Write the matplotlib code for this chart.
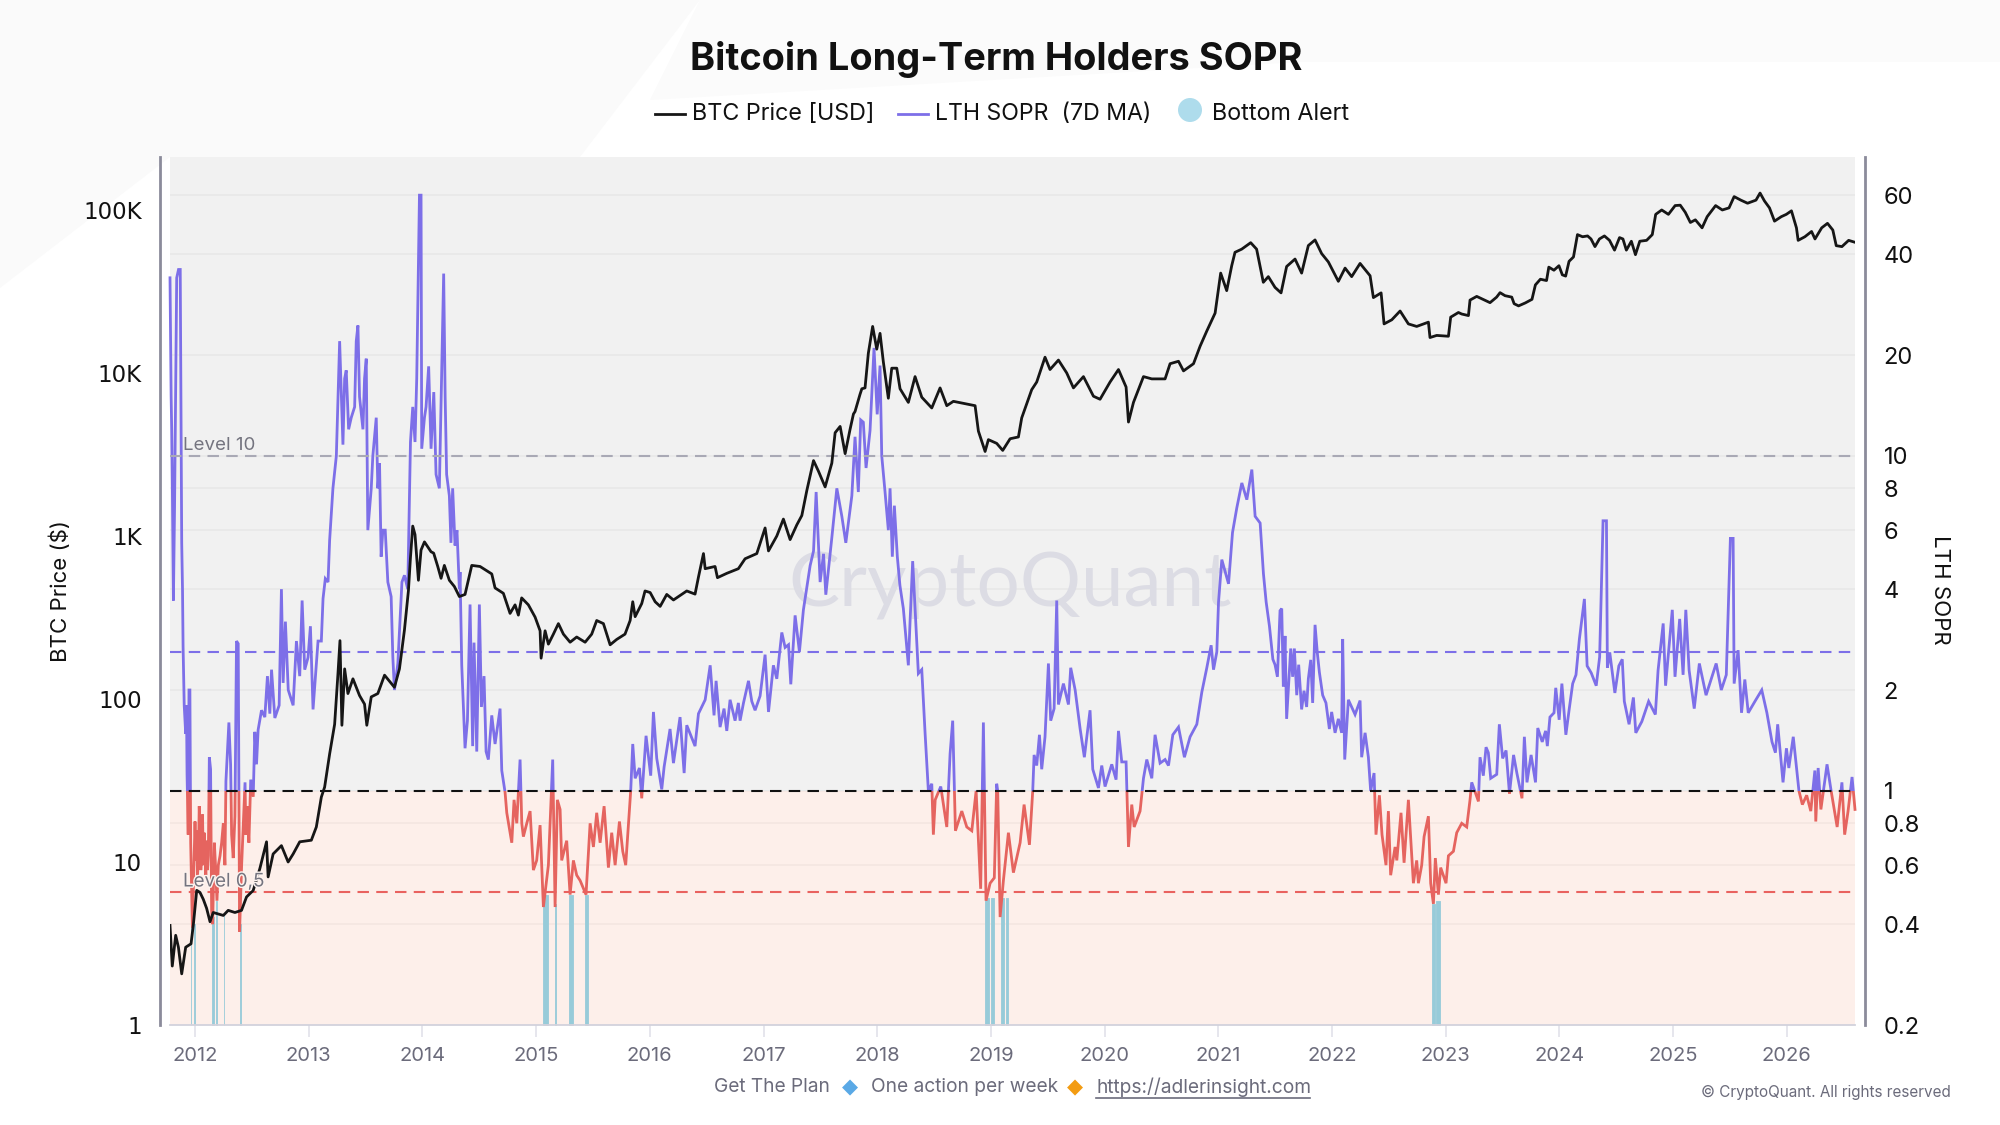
import matplotlib
matplotlib.use("Agg")
import matplotlib.pyplot as plt
import matplotlib.patheffects as pe
from matplotlib.lines import Line2D
from matplotlib.patches import Circle, Polygon, Rectangle
from matplotlib.ticker import FixedLocator, FixedFormatter, NullLocator

W, H = 2000, 1125
FONT = ["Inter", "DejaVu Sans"]

# ---------- data ----------
sopr_years_2011_2014 = [2011.78,2011.79,2011.795,2011.80,2011.81,2011.82,2011.839,2011.855,2011.87,2011.883,2011.89,2011.895,2011.90,2011.905,2011.918,2011.925,2011.93,2011.94,2011.947,2011.955,2011.962,2011.977,
 2012.0,2012.008,2012.015,2012.022,2012.03,2012.037,2012.044,2012.051,2012.058,2012.066,2012.073,2012.08,2012.088,2012.095,2012.102,2012.11,2012.117,2012.126,2012.137,2012.146,2012.155,2012.17,2012.18,2012.193,2012.205,2012.22,2012.234,2012.249,2012.263,2012.272,2012.284,2012.298,2012.313,2012.322,2012.336,2012.351,2012.365,2012.38,2012.392,2012.41,2012.44,2012.447,2012.459,2012.474,2012.49,2012.512,2012.526,2012.541,2012.555,2012.585,2012.614,2012.637,2012.658,2012.673,2012.702,2012.74,2012.76,2012.775,2012.795,2012.82,2012.863,2012.892,2012.921,2012.942,2012.965,2012.994,
 2013.015,2013.038,2013.082,2013.111,2013.126,2013.146,2013.17,2013.184,2013.213,2013.243,2013.272,2013.301,2013.316,2013.33,2013.351,2013.374,2013.404,2013.418,2013.433,2013.447,2013.477,2013.491,2013.506,2013.52,2013.55,2013.564,2013.594,2013.608,2013.623,2013.637,2013.652,2013.673,2013.696,2013.725,2013.74,2013.754,2013.784,2013.82,2013.842,2013.871,2013.895,2013.915,2013.935,2013.95,2013.974,2013.988,2013.994,
 2014.018,2014.032,2014.055,2014.076,2014.1,2014.12,2014.149,2014.187,2014.2,2014.213,2014.237,2014.251,2014.266,2014.287,2014.304,2014.325]
sopr_values_2011_2014 = [34,15,12,8.5,3.7,7,34,36,36,5.5,4,2.7,2.2,1.8,1.48,1.8,1.12,.74,2,2,.7,.39,
 .81,.62,.76,.56,.62,.9,.78,.58,.64,.85,.6,.75,.64,.56,.71,.58,.64,1.26,1.16,.44,.4,.7,.6,.47,.6,.64,.7,.8,.6,1.07,1.29,1.6,1.2,.74,.63,.84,2.8,2.75,.38,.6,1.06,.74,.9,.7,1.08,.96,1.5,1.2,1.52,1.74,1.66,2.2,1.7,2.3,1.65,1.8,4,2.1,3.2,2,1.8,2.8,2.2,3.7,2.3,2.5,
 3.1,1.75,2.8,2.8,3.75,4.3,4.2,5.6,8,10,22,10.8,17,18,12,13,14,22,24.5,15,12,17,19.5,6,8,10,13,8,9.5,5,6,6,4.2,3.8,2.5,2,2.4,4.2,4.4,4,11,14,11,17,60,60,10.5,
 13,14,18.5,10.5,15.5,8.8,8,35,15,8.8,7.6,5.5,8,5.4,6,4]
sopr_years_2014_2017 = [2014.331,2014.346,2014.375,2014.396,2014.419,2014.442,2014.454,2014.478,2014.501,2014.519,2014.542,2014.56,2014.58,2014.61,2014.639,2014.683,2014.698,2014.712,2014.727,2014.742,2014.786,2014.806,2014.83,2014.859,2014.874,2014.888,2014.918,2014.947,2014.976,
 2015.005,2015.035,2015.064,2015.108,2015.146,2015.167,2015.187,2015.211,2015.225,2015.269,2015.299,2015.328,2015.357,2015.387,2015.439,2015.475,2015.504,2015.533,2015.563,2015.598,2015.636,2015.665,2015.695,2015.733,2015.762,2015.788,2015.812,2015.832,2015.85,2015.871,2015.909,2015.929,2015.967,
 2016.008,2016.032,2016.061,2016.105,2016.126,2016.178,2016.208,2016.266,2016.302,2016.325,2016.398,2016.428,2016.487,2016.531,2016.565,2016.583,2016.618,2016.653,2016.677,2016.706,2016.75,2016.779,2016.794,2016.824,2016.868,2016.897,2016.926,2016.97,
 2017.014,2017.044,2017.087,2017.117,2017.161,2017.19,2017.22,2017.24,2017.278,2017.316,2017.351,2017.381,2017.41,2017.44,2017.463,2017.498,2017.528,2017.548,2017.601,2017.645,2017.689,2017.724,2017.777]
sopr_values_2014_2017 = [4.5,2.37,1.34,1.62,3.6,1.36,2.77,1.31,3.6,1.78,2.2,1.31,1.24,1.68,1.38,1.76,1.15,1.07,.99,.86,.7,.94,.8,1.24,.8,.73,.8,.87,.58,
 .62,.79,.45,.6,1.24,.45,.94,.88,.62,.71,.49,.62,.56,.54,.49,.8,.68,.86,.7,.9,.59,.75,.6,.81,.66,.6,.79,1,1.38,1.09,1.17,.95,1.46,
 1.11,1.72,1.25,1.01,1.18,1.53,1.21,1.66,1.13,1.57,1.36,1.7,1.87,2.37,1.68,2.13,1.55,1.76,1.51,1.87,1.62,1.83,1.62,1.83,2.13,1.85,1.74,1.92,
 2.55,1.72,2.37,2.16,2.97,2.68,2.73,2.08,3.34,2.6,3.47,4.05,4.7,5.2,7.8,4.2,5.1,3.85,5.7,8,6.6,5.5,7.6]
sopr_years_2017_2021 = [2017.805,2017.834,2017.855,2017.878,2017.902,2017.937,2017.972,2018.0,2018.025,2018.04,2018.069,2018.098,2018.113,2018.133,2018.151,2018.177,2018.2,2018.23,2018.274,2018.289,2018.312,2018.347,2018.362,2018.392,2018.421,2018.45,2018.48,2018.494,2018.51,2018.559,2018.612,2018.641,2018.664,2018.688,2018.744,2018.788,2018.832,2018.87,2018.91,2018.934,2018.957,2018.993,
 2019.03,2019.051,2019.06,2019.081,2019.11,2019.154,2019.198,2019.257,2019.292,2019.339,2019.368,2019.38,2019.403,2019.427,2019.447,2019.476,2019.506,2019.526,2019.556,2019.579,2019.594,2019.638,2019.682,2019.702,2019.741,2019.785,2019.822,2019.872,2019.896,2019.946,2019.975,
 2020.004,2020.063,2020.101,2020.122,2020.151,2020.189,2020.21,2020.239,2020.26,2020.312,2020.342,2020.371,2020.415,2020.444,2020.488,2020.532,2020.562,2020.6,2020.65,2020.702,2020.752,2020.811,2020.855,2020.899,2020.937,2020.958,2020.987,
 2021.002,2021.031,2021.09,2021.125,2021.163,2021.207,2021.251,2021.295,2021.324,2021.368,2021.397,2021.421,2021.45,2021.48]
sopr_values_2017_2021 = [11.4,7.8,12.8,12.6,9.2,11.9,21,13.3,18.6,10,7.8,6,8,5,7.1,5,4.1,3.5,2.37,3.2,4.85,2.84,2.24,2.3,1.49,1,1.05,.74,.94,1.03,.78,1.29,1.62,.76,.87,.78,.76,1,.51,1.6,.47,.53,
 .55,1.05,1,.42,.54,.75,.57,.7,.91,.69,1,1.28,1.19,1.47,1.16,1.45,2.4,1.62,1.76,3.7,1.81,2.09,1.81,2.33,2,1.53,1.26,1.74,1.16,1.02,1.19,
 1.03,1.2,1.08,1.51,1.22,1.22,.68,.91,.78,.87,1.09,1.24,1.09,1.47,1.21,1.24,1.19,1.47,1.55,1.26,1.45,1.58,1.97,2.33,2.72,2.3,2.6,
 3.66,4.9,4.15,5.9,7,8.3,7.4,9.1,6.6,6.3,4.45,3.66,3.1,2.47]
sopr_years_2021_2022 = [2021.499,2021.52,2021.543,2021.558,2021.572,2021.587,2021.601,2021.625,2021.637,2021.654,2021.669,2021.69,2021.707,2021.733,2021.754,2021.777,2021.792,2021.813,2021.83,2021.851,2021.871,2021.889,2021.918,2021.947,2021.977,2021.997,2022.027,2022.056,2022.085,2022.094,2022.112]
sopr_values_2021_2022 = [2.38,2.19,3.45,3.5,2.05,2.9,1.64,2.27,2.66,2.19,2.66,1.93,2.38,1.75,1.99,1.78,2.16,2.46,1.83,3.13,2.58,2.26,1.93,1.83,1.53,1.72,1.49,1.64,1.49,2.84,1.24]
sopr_years_2022_2026 = [2022.144,2022.203,2022.247,2022.261,2022.291,2022.32,2022.34,2022.37,2022.387,2022.417,2022.44,2022.475,2022.496,2022.516,2022.555,2022.57,2022.607,2022.634,2022.672,2022.716,2022.745,2022.76,2022.789,2022.81,2022.848,2022.868,2022.892,2022.909,2022.936,2022.956,
 2023.003,2023.024,2023.068,2023.097,2023.141,2023.185,2023.214,2023.229,2023.288,2023.302,2023.331,2023.355,2023.375,2023.396,2023.449,2023.472,2023.501,2023.531,2023.561,2023.597,2023.626,2023.671,2023.692,2023.715,2023.751,2023.79,2023.81,2023.849,2023.879,2023.894,2023.917,2023.953,2023.968,2023.998,
 2024.022,2024.057,2024.087,2024.117,2024.146,2024.176,2024.22,2024.244,2024.28,2024.324,2024.354,2024.384,2024.414,2024.422,2024.443,2024.488,2024.523,2024.553,2024.571,2024.613,2024.651,2024.672,2024.725,2024.785,2024.844,2024.868,2024.913,2024.934,2024.993,
 2025.017,2025.058,2025.088,2025.112,2025.141,2025.186,2025.231,2025.29,2025.379,2025.424,2025.468,2025.504,2025.528,2025.537,2025.572,2025.602,2025.631,2025.661,2025.72,2025.78,2025.825,2025.87,2025.9,2025.92,2025.967,2025.997,
 2026.018,2026.057,2026.107,2026.137,2026.175,2026.211,2026.247,2026.255,2026.276,2026.3,2026.354,2026.39,2026.443,2026.485,2026.509,2026.539,2026.574,2026.6]
sopr_values_2022_2026 = [1.87,1.69,1.86,1.26,1.49,1.26,1,1.13,.74,.97,.74,.6,.87,.56,.68,.62,.86,.61,.94,.53,.62,.53,.6,.73,.84,.53,.46,.63,.49,.59,
 .53,.64,.66,.75,.8,.78,.94,1.06,.93,1.26,1.11,1.35,1.3,1.09,1.12,1.58,1.25,1.32,.98,1.28,1.13,.95,1.45,1.06,1.28,1.06,1.54,1.4,1.51,1.36,1.66,1.71,2.03,1.63,
 2.09,1.47,1.76,2.09,2.22,2.84,3.74,2.36,2.25,2.06,2.51,6.4,6.4,2.33,2.59,1.96,2.36,2.47,1.85,1.58,1.9,1.49,1.61,1.85,1.69,2.29,3.16,2.06,3.47,
 2.19,3.26,2.22,3.47,2.29,1.76,2.4,1.93,2.4,2,2.22,5.67,5.67,2.09,2.63,1.71,2.15,1.71,1.85,2,1.71,1.4,1.3,1.58,1.06,1.34,
 1.17,1.45,1,.91,.97,.87,1.15,.81,1.17,.88,1.2,1,.78,1.06,.74,.87,1.1,.88]

price_years_2011_2014 = [2011.78,2011.80,2011.83,2011.854,2011.883,2011.918,2011.965,2011.985,2012.015,2012.044,2012.073,2012.102,2012.132,2012.16,2012.205,2012.249,2012.292,2012.351,2012.409,2012.453,2012.512,2012.57,2012.629,2012.643,2012.687,2012.76,2012.819,2012.863,2012.921,
 2013.023,2013.067,2013.111,2013.14,2013.184,2013.228,2013.257,2013.275,2013.292,2013.316,2013.345,2013.389,2013.447,2013.491,2013.511,2013.55,2013.608,2013.667,2013.754,2013.798,2013.842,2013.871,2013.877,2013.895,2013.915,2013.935,2013.965,2013.988,
 2014.018,2014.076,2014.099,2014.135,2014.164,2014.193,2014.237,2014.281,2014.325]
price_values_2011_2014 = [4.08,2.3,3.55,3,2.06,3,3.15,4.1,6.7,6.5,5.9,5.2,4.3,4.9,4.8,4.7,5.05,4.9,5.05,6.1,6.7,9.1,13.3,8.1,11.2,12.6,10,11.2,13.3,
 13.6,16.4,25,28.8,46,70,142,228,69,153,108,133,105,93,69,103,108,140,118,153,265,420,462,740,1150,1020,535,820,
 920,800,785,650,550,660,535,490,425]
price_years_2014_2018 = [2014.375,2014.434,2014.507,2014.61,2014.639,2014.712,2014.771,2014.815,2014.844,2014.873,2014.932,2014.991,
 2015.035,2015.044,2015.079,2015.108,2015.152,2015.196,2015.24,2015.299,2015.357,2015.431,2015.489,2015.533,2015.592,2015.651,2015.709,2015.782,2015.827,2015.85,2015.871,2015.929,2015.958,
 2016.003,2016.047,2016.091,2016.149,2016.208,2016.325,2016.398,2016.428,2016.472,2016.487,2016.574,2016.595,2016.677,2016.779,2016.838,2016.941,
 2017.014,2017.044,2017.117,2017.175,2017.234,2017.293,2017.337,2017.381,2017.44,2017.483,2017.542,2017.601,2017.63,2017.674,2017.718,2017.761,2017.791,2017.805,2017.849,2017.865,2017.893,2017.922,2017.96,2017.996]
price_values_2014_2018 = [438,660,650,585,480,445,335,378,327,417,378,318,
 262,178,262,217,250,290,250,223,240,223,250,303,290,215,232,250,303,395,320,385,460,
 450,395,370,438,405,460,440,560,780,630,650,555,590,630,725,780,
 1120,810,1000,1270,950,1170,1335,1900,2900,2500,2000,2800,4300,4700,3200,4500,5600,5800,7400,8000,8100,13200,19300,14000]
price_years_2018_2021 = [2018.025,2018.054,2018.098,2018.128,2018.172,2018.201,2018.274,2018.333,2018.392,2018.48,2018.553,2018.612,2018.67,2018.861,2018.89,2018.949,2018.978,
 2019.051,2019.104,2019.169,2019.242,2019.271,2019.359,2019.403,2019.476,2019.52,2019.594,2019.667,2019.726,2019.814,2019.902,2019.96,
 2020.048,2020.122,2020.189,2020.21,2020.254,2020.342,2020.415,2020.532,2020.576,2020.65,2020.694,2020.782,2020.84,2020.899,2020.972]
price_values_2018_2021 = [17500,11700,7000,10700,10700,8000,6600,9500,7100,6100,8100,6300,6700,6300,4400,3300,3900,
 3700,3350,3950,4050,5300,7900,8800,12500,10500,12000,10000,8100,9500,7200,6900,
 8800,10500,8200,5000,6600,9500,9200,9200,11400,11800,10300,11400,14600,18100,23300]
price_years_2021_2023 = [2021.021,2021.074,2021.118,2021.147,2021.206,2021.285,2021.337,2021.396,2021.44,2021.499,2021.552,2021.601,2021.675,2021.733,2021.792,2021.851,2021.909,2021.968,
 2022.056,2022.115,2022.173,2022.247,2022.335,2022.364,2022.432,2022.458,2022.526,2022.599,2022.672,2022.745,2022.848,2022.862,2022.921,
 2023.024,2023.044,2023.112,2023.141,2023.2,2023.214,2023.273,2023.39]
price_values_2021_2023 = [41000,32000,45500,55000,57500,63000,57500,36000,39000,33500,31000,45000,50000,41000,60500,65500,54000,48000,
 36500,44000,39000,47000,39500,29000,31000,20000,21200,24000,20000,19300,20500,16500,17000,
 16800,22000,23500,23000,22500,28000,29500,27000]
price_years_2023_2026 = [2023.448,2023.478,2023.522,2023.581,2023.602,2023.641,2023.70,2023.759,2023.789,2023.833,2023.887,2023.907,2023.952,2023.996,
 2024.026,2024.055,2024.085,2024.124,2024.159,2024.204,2024.248,2024.278,2024.313,2024.352,2024.396,2024.441,2024.485,2024.529,2024.559,2024.589,2024.633,2024.669,2024.707,2024.767,2024.817,2024.847,2024.9,2024.959,
 2025.018,2025.063,2025.107,2025.152,2025.196,2025.255,2025.3,2025.374,2025.433,2025.492,2025.537,2025.596,2025.655,2025.729,2025.765,2025.804,2025.848,2025.892,2025.952,2025.996,
 2026.041,2026.085,2026.1,2026.159,2026.218,2026.248,2026.307,2026.358,2026.405,2026.435,2026.485,2026.544,2026.595]
price_values_2023_2026 = [29200,31100,29800,29200,26600,25800,26900,28300,34700,37600,36900,44600,42700,45500,
 40000,39300,48400,51500,70600,68500,69300,66400,59600,66400,69300,65100,56700,67700,66400,56700,64300,53200,64300,65100,70600,94000,100000,94000,
 106400,107000,96800,83800,87000,77700,91000,106400,100000,103000,120800,114900,110000,114900,127000,113500,103000,85400,91000,94000,
 98800,77700,65100,68500,73800,66400,77700,82800,75300,60400,59600,65100,63500]

alert_starts = [2011.965,2011.992,2012.146,2012.188,2012.255,2012.398,2015.064,2015.17,2015.293,2015.431,2018.949,2018.999,2019.087,2019.133,2022.883,2022.918]
alert_ends = [2011.969,2011.996,2012.164,2012.193,2012.259,2012.403,2015.108,2015.176,2015.322,2015.46,2018.984,2019.028,2019.116,2019.148,2022.903,2022.95]
alert_tops = [.4,.4,.42,.47,.43,.4,.49,.46,.49,.49,.48,.48,.48,.48,.46,.47]

level_values = [10, 2.6, 1, 0.5]
level_colors = ["#a9a9b5", "#7d6fe8", "#111111", "#e9625f"]
sopr_ticks = [0.2,0.4,0.6,0.8,1,2,4,6,8,10,20,40,60]
sopr_tick_labels = ["0.2","0.4","0.6","0.8","1","2","4","6","8","10","20","40","60"]
price_ticks = [1,10,100,1000,10000,100000]
price_tick_labels = ["1","10","100","1K","10K","100K"]
year_ticks = list(range(2012, 2027))

sopr_years = sopr_years_2011_2014 + sopr_years_2014_2017 + sopr_years_2017_2021 + sopr_years_2021_2022 + sopr_years_2022_2026
sopr_values = sopr_values_2011_2014 + sopr_values_2014_2017 + sopr_values_2017_2021 + sopr_values_2021_2022 + sopr_values_2022_2026
price_years = price_years_2011_2014 + price_years_2014_2018 + price_years_2018_2021 + price_years_2021_2023 + price_years_2023_2026
price_values = price_values_2011_2014 + price_values_2014_2018 + price_values_2018_2021 + price_values_2021_2023 + price_values_2023_2026

# ---------- figure ----------
fig = plt.figure(figsize=(W/100, H/100), dpi=100, facecolor="white")
def fx(x): return x / W
def fy(y): return 1 - y / H
def px_text(x, y, s, **kw):
    kw.setdefault("family", FONT)
    return fig.text(fx(x), fy(y), s, **kw)

# pale backdrop shape
fig.add_artist(Polygon([(0,1),(fx(700),1),(fx(580),fy(157)),(fx(170),fy(157)),(0,fy(288))],
                       closed=True, transform=fig.transFigure, fc="#fafafa", ec="none", zorder=-5))
fig.add_artist(Polygon([(fx(700),1),(1,1),(1,fy(62)),(fx(1300),fy(62)),(fx(650),fy(100))],
                       closed=True, transform=fig.transFigure, fc="#fbfbfb", ec="none", zorder=-5))

ax = fig.add_axes([fx(170), fy(1025), (1855-170)/W, (1025-157)/H])
ax.set_xlim(2011.78, 2026.60)
ax.set_yscale("log")
ax.set_ylim(0.2, 78)
ax.patch.set_alpha(0)

ax.axhspan(1, 78, color="#f1f1f1", lw=0, zorder=0)
ax.axhspan(0.2, 1, color="#fdefea", lw=0, zorder=0)
for t in sopr_ticks[1:]:
    ax.axhline(t, color="#000000", alpha=0.035, lw=1.2, zorder=0.5)

ax.text(fx(1010), fy(586), "CryptoQuant", transform=fig.transFigure, ha="center", va="center",
        fontsize=55, color="#dcdce4", family=["Lato", "DejaVu Sans"], zorder=0.7)

for s, e, top in zip(alert_starts, alert_ends, alert_tops):
    ax.fill_between([s, e], 0.2, top, color="#97cbd9", lw=0.6, zorder=1)

for v, c in zip(level_values, level_colors):
    ax.axhline(v, color=c, lw=1.5, dashes=(5.5, 3.5), zorder=3)

upper = Rectangle((2011, 1), 20, 200, transform=ax.transData)
lower = Rectangle((2011, 0.01), 20, 0.99, transform=ax.transData)
l1, = ax.plot(sopr_years, sopr_values, color="#7d6fe8", lw=2.0, zorder=2, solid_joinstyle="miter")
l1.set_clip_path(upper)
l2, = ax.plot(sopr_years, sopr_values, color="#e5645f", lw=2.0, zorder=2, solid_joinstyle="miter")
l2.set_clip_path(lower)

ax2 = ax.twinx()
ax2.set_yscale("log")
ax2.set_ylim(1, 10**5.325)
ax2.set_xlim(2011.78, 2026.60)
ax2.patch.set_alpha(0)
ax2.plot(price_years, price_values, color="#161616", lw=2.0, zorder=5)

# axes furniture
ax.yaxis.tick_right()
ax2.yaxis.tick_left()
ax.yaxis.set_major_locator(FixedLocator(sopr_ticks))
ax.yaxis.set_major_formatter(FixedFormatter(sopr_tick_labels))
ax.yaxis.set_minor_locator(NullLocator())
ax2.yaxis.set_major_locator(FixedLocator(price_ticks))
ax2.yaxis.set_major_formatter(FixedFormatter(price_tick_labels))
ax2.yaxis.set_minor_locator(NullLocator())
ax.set_xticks(year_ticks)
ax.set_xticklabels([str(y) for y in year_ticks])
ax2.tick_params(axis="x", bottom=False, labelbottom=False)
ax.tick_params(axis="x", length=8.5, width=1.2, color="#e2e2ea", labelcolor="#6b6b7b", labelsize=14.5, pad=7.5)
ax.tick_params(axis="y", which="major", length=0, labelsize=17, labelcolor="#111111", pad=20.5)
ax2.tick_params(axis="y", which="major", length=0, labelsize=16.5, labelcolor="#111111", pad=13)
for lab in ax.get_xticklabels() + ax.get_yticklabels() + ax2.get_yticklabels():
    lab.set_family(FONT)

for a in (ax, ax2):
    for side in ("top", "left", "right", "bottom"):
        a.spines[side].set_visible(False)
ax.spines["bottom"].set_visible(True)
ax.spines["bottom"].set_color("#d2d2dc")
ax.spines["bottom"].set_linewidth(1.3)
ax2.spines["left"].set_visible(True)
ax2.spines["left"].set_position(("outward", 7.2))
ax2.spines["left"].set_color("#8b8b9b")
ax2.spines["left"].set_linewidth(2)
ax2.spines["right"].set_visible(True)
ax2.spines["right"].set_position(("outward", 7.2))
ax2.spines["right"].set_color("#8b8b9b")
ax2.spines["right"].set_linewidth(2)

# level labels
px_text(183, 445, "Level 10", fontsize=13.5, color="#74747f", va="center", ha="left")
lab2 = px_text(183, 882, "Level 0,5", fontsize=13.5, color="#74747f", va="center", ha="left", zorder=10)
lab2.set_path_effects([pe.withStroke(linewidth=2, foreground="#fdf3ef")])

# titles and axis names
px_text(996, 59, "Bitcoin Long-Term Holders SOPR", fontsize=27.3, fontweight="bold", color="#111111", ha="center", va="center")
px_text(60, 591, "BTC Price ($)", fontsize=16, color="#111111", rotation=90, ha="center", va="center")
px_text(1940, 590, "LTH SOPR", fontsize=16, color="#111111", rotation=270, ha="center", va="center")

# legend
fig.add_artist(Line2D([fx(655), fx(685)], [fy(114), fy(114)], color="#161616", lw=2, transform=fig.transFigure))
px_text(692, 114, "BTC Price [USD]", fontsize=16.8, color="#111111", ha="left", va="center")
fig.add_artist(Line2D([fx(898), fx(928)], [fy(114), fy(114)], color="#7d6fe8", lw=2, transform=fig.transFigure))
px_text(935, 114, "LTH SOPR  (7D MA)", fontsize=16.6, color="#111111", ha="left", va="center")
fig.add_artist(Circle((1190, H-110), 12, transform=None, fc="#aedcec", ec="none"))
px_text(1212, 114, "Bottom Alert", fontsize=16.8, color="#111111", ha="left", va="center")

# footer
GREY = "#6b6b7b"
px_text(714, 1087, "Get The Plan", fontsize=13.8, color=GREY, ha="left", va="center")
px_text(850, 1087, "\u25c6", fontsize=15, color="#5aa9e6", ha="center", va="center", family="DejaVu Sans")
px_text(871, 1087, "One action per week", fontsize=13.8, color=GREY, ha="left", va="center")
px_text(1075, 1087, "\u25c6", fontsize=15, color="#f39c12", ha="center", va="center", family="DejaVu Sans")
px_text(1096, 1087, "https://adlerinsight.com", fontsize=13.8, color=GREY, ha="left", va="center")
fig.add_artist(Line2D([fx(1096), fx(1310)], [fy(1098), fy(1098)], color=GREY, lw=1.2, transform=fig.transFigure))
px_text(1951, 1092, "\u00a9 CryptoQuant. All rights reserved", fontsize=11, color=GREY, ha="right", va="center")

fig.savefig("out.png", dpi=100, facecolor="white")
